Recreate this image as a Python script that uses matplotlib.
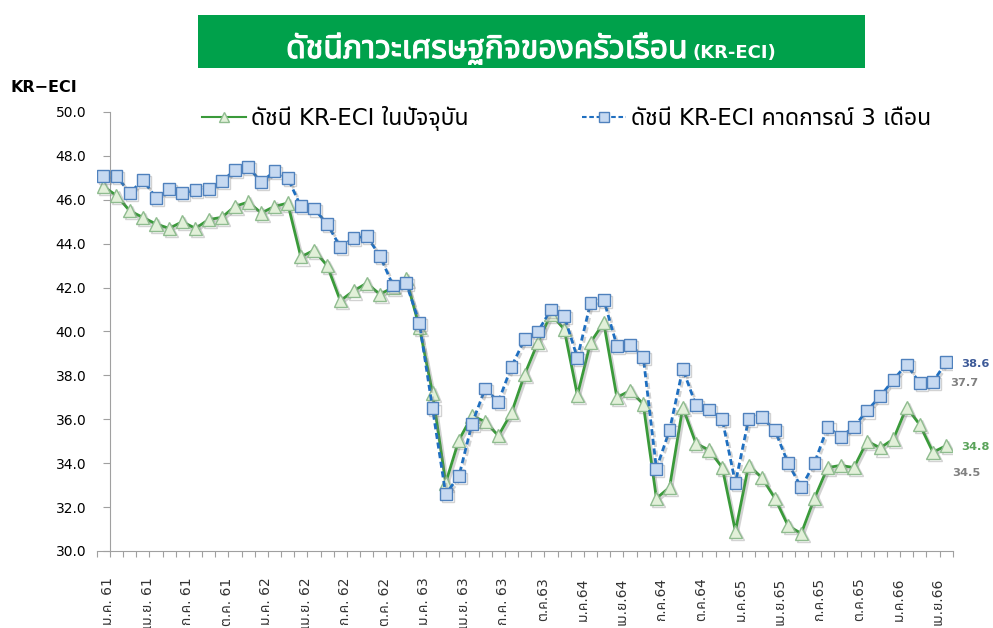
import matplotlib
matplotlib.use('Agg')
import matplotlib.pyplot as plt
import matplotlib.patheffects as pe
import matplotlib.transforms as mtransforms
from matplotlib import font_manager
from matplotlib.ft2font import FT2Font
from matplotlib.lines import Line2D
from matplotlib.patches import Rectangle
import numpy as np

# find a font that has Thai glyphs
def find_thai_font():
    found = []
    for f in font_manager.fontManager.ttflist:
        try:
            if 0x0E14 in FT2Font(f.fname).get_charmap():
                found.append(f.name)
        except Exception:
            pass
    for pref in ['Noto Sans Thai', 'Noto Sans Thai UI', 'Tahoma', 'Leelawadee UI', 'Loma', 'Garuda', 'Sarabun']:
        if pref in found:
            return pref
    return found[0] if found else None

thai = find_thai_font()
fam = ['DejaVu Sans'] + ([thai] if thai else [])
plt.rcParams['font.family'] = fam

tick_labels = ['ม.ค. 61', 'เม.ย. 61', 'ก.ค. 61', 'ต.ค. 61',
               'ม.ค. 62', 'เม.ย. 62', 'ก.ค. 62', 'ต.ค. 62',
               'ม.ค. 63', 'เม.ย. 63', 'ก.ค. 63', 'ต.ค.63',
               'ม.ค.64', 'เม.ย.64', 'ก.ค.64', 'ต.ค.64',
               'ม.ค.65', 'เม.ย.65', 'ก.ค.65', 'ต.ค.65',
               'ม.ค.66', 'เม.ย.66']

# ม.ค.61 - พ.ค.66, monthly
current = [46.6, 46.2, 45.5, 45.2, 44.9, 44.7, 45.0, 44.7, 45.1, 45.2,
           45.7, 45.9, 45.4, 45.7, 45.85, 43.4, 43.7, 43.0, 41.4, 41.85,
           42.2, 41.7, 42.0, 42.4, 40.2, 37.2, 33.1, 35.05, 36.15, 35.9,
           35.25, 36.3, 38.05, 39.5, 40.8, 40.1, 37.1, 39.5, 40.4, 37.0,
           37.3, 36.7, 32.4, 32.9, 36.55, 34.9, 34.6, 33.8, 30.9, 33.9,
           33.35, 32.4, 31.15, 30.8, 32.4, 33.8, 33.9, 33.8, 35.0, 34.7,
           35.1, 36.55, 35.75, 34.5, 34.8]
expected = [47.1, 47.1, 46.3, 46.9, 46.1, 46.5, 46.3, 46.45, 46.5, 46.85,
            47.35, 47.5, 46.8, 47.3, 47.0, 45.7, 45.6, 44.9, 43.85, 44.25,
            44.35, 43.45, 42.1, 42.2, 40.4, 36.5, 32.6, 33.4, 35.8, 37.4,
            36.8, 38.4, 39.65, 40.0, 41.0, 40.7, 38.8, 41.3, 41.45, 39.35,
            39.4, 38.85, 33.75, 35.5, 38.3, 36.65, 36.45, 36.0, 33.1, 36.0,
            36.1, 35.5, 34.0, 32.9, 34.0, 35.65, 35.2, 35.65, 36.4, 37.05,
            37.8, 38.5, 37.65, 37.7, 38.6]

x = np.arange(len(current))
n = len(x)

fig = plt.figure(figsize=(9.93, 6.28), dpi=100)
ax = fig.add_axes([96.7/993, 1-551/628, 856/993, 439/628])

shadow = [pe.SimpleLineShadow(offset=(1.5, -1.5), shadow_color='#808080', alpha=0.35), pe.Normal()]

ax.plot(x, current, color='#3a9a3a', lw=2.0, marker='^', ms=9.5,
        mfc='#e2f0d9', mec='#8fbc8f', mew=1, path_effects=shadow, zorder=3)
ax.plot(x, expected, color='#1f6fc0', lw=2.0, ls=(0, (2.2, 1.3)), marker='s', ms=8.5,
        mfc='#c6d9f1', mec='#4f81bd', mew=1, path_effects=shadow, zorder=4)

ax.set_xlim(-0.5, n - 0.5)
ax.set_ylim(30, 50)
yt = np.arange(30, 50.1, 2)
ax.set_yticks(yt)
ax.set_yticklabels([f'{v:.1f}' for v in yt], fontsize=9.5, fontweight='bold', color='#262626')
ax.tick_params(axis='y', length=5, width=0.8, color='#a0a0a0', pad=12)

ax.set_xticks(np.arange(-0.5, n, 1))
ax.set_xticklabels([])
ax.tick_params(axis='x', which='major', length=4, width=0.8, color='#a0a0a0', direction='out')
ax.set_xticks(np.arange(0, n, 3), minor=True)
ax.set_xticklabels(tick_labels, minor=True, rotation=90, fontsize=10, color='#333333', va='top')
ax.tick_params(axis='x', which='minor', length=0, pad=19)
shift = mtransforms.ScaledTranslation(5/100, 0, fig.dpi_scale_trans)
for lab in ax.get_xticklabels(minor=True):
    lab.set_transform(lab.get_transform() + shift)

for s in ['top', 'right']:
    ax.spines[s].set_visible(False)
ax.spines['left'].set_position(('data', 0.5))
ax.spines['left'].set_color('#a0a0a0')
ax.spines['bottom'].set_color('#a0a0a0')

# end values
ax.text(65.15, expected[-1] - 0.1, f'{expected[-1]:.1f}', color='#3d5a98', fontsize=8.2,
        fontweight='bold', va='center', ha='left', clip_on=False)
ax.text(64.3, expected[-2] - 0.05, f'{expected[-2]:.1f}', color='#808080', fontsize=8.2,
        fontweight='bold', va='center', ha='left', clip_on=False)
ax.text(65.15, current[-1] - 0.05, f'{current[-1]:.1f}', color='#5aa35a', fontsize=8.2,
        fontweight='bold', va='center', ha='left', clip_on=False)
ax.text(64.45, current[-2] - 0.95, f'{current[-2]:.1f}', color='#808080', fontsize=8.2,
        fontweight='bold', va='center', ha='left', clip_on=False)

h1 = Line2D([], [], color='#3a9a3a', lw=1.5, marker='^', ms=7, mfc='#e2f0d9', mec='#8fbc8f')
h2 = Line2D([], [], color='#1f6fc0', lw=1.5, ls=(0, (2.2, 1.3)), marker='s', ms=7, mfc='#c6d9f1', mec='#4f81bd')
leg = ax.legend([h1, h2], ['ดัชนี KR-ECI ในปัจจุบัน', 'ดัชนี KR-ECI คาดการณ์ 3 เดือน'],
                loc='upper left', bbox_to_anchor=((202-96.7)/856, 1.014), ncol=2, frameon=False,
                fontsize=16.5, handlelength=1.9, handletextpad=0.25, columnspacing=4.95,
                borderpad=0, borderaxespad=0)

fig.text(10/993, 1-88/628, 'KR−ECI', fontsize=11.5, fontweight='bold', va='center', ha='left')

# title banner
fig.patches.append(Rectangle((198/993, 1-68/628), 667/993, 53/628, transform=fig.transFigure,
                             facecolor='#00a14b', edgecolor='none'))
fig.text(688/993, 1-58/628, 'ดัชนีภาวะเศรษฐกิจของครัวเรือน', fontsize=23, fontweight='bold',
         color='white', ha='right', va='baseline', family=([thai] if thai else []) + ['DejaVu Sans'],
         path_effects=[pe.withStroke(linewidth=0.8, foreground='white')])
fig.text(692/993, 1-58/628, '(KR-ECI)', fontsize=13, fontweight='bold', color='white',
         ha='left', va='baseline')

fig.savefig('out.png', dpi=100)
